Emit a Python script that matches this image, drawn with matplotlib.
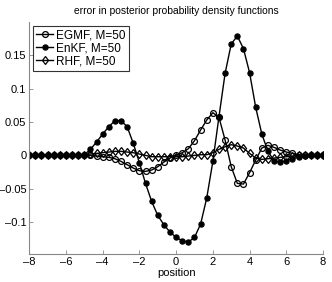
import numpy as np
import matplotlib
matplotlib.use("Agg")
import matplotlib.pyplot as plt

plt.rcParams['font.family'] = ['Liberation Sans', 'DejaVu Sans']

# grid of positions, step 1/3 from -8 to 8
position = np.linspace(-8, 8, 49)

egmf = [0, 0, 0, 0, 0, 0, 0, 0, 0, 0,
        0, -0.001, -0.002, -0.003, -0.005, -0.009, -0.014, -0.019, -0.023, -0.024,
        -0.022, -0.017, -0.010, -0.004, 0.000, 0.004, 0.010, 0.022, 0.038, 0.053,
        0.064, 0.057, 0.023, -0.017, -0.042, -0.043, -0.026, -0.007, 0.011, 0.015,
        0.012, 0.008, 0.005, 0.003, 0.001, 0, 0, 0, 0]

enkf = [0, 0, 0, 0, 0, 0, 0, 0, 0, 0.001,
        0.009, 0.020, 0.032, 0.043, 0.052, 0.052, 0.043, 0.018, -0.011, -0.042,
        -0.069, -0.090, -0.104, -0.115, -0.123, -0.128, -0.130, -0.123, -0.103, -0.064,
        -0.009, 0.058, 0.123, 0.167, 0.179, 0.160, 0.124, 0.072, 0.032, 0.006,
        -0.008, -0.010, -0.008, -0.005, -0.003, -0.001, 0, 0, 0]

rhf = [0, 0, 0, 0, 0, 0, 0, 0, 0, 0.001,
       0.002, 0.003, 0.004, 0.005, 0.006, 0.006, 0.005, 0.004, 0.002, 0.000,
       -0.002, -0.002, -0.002, -0.002, -0.002, -0.002, -0.001, 0.000, 0.001, 0.001,
       0.004, 0.009, 0.013, 0.016, 0.014, 0.011, 0.003, -0.004, -0.006, -0.005,
       -0.004, -0.003, -0.002, -0.001, 0, 0, 0, 0, 0]

labels = ['EGMF, M=50', 'EnKF, M=50', 'RHF, M=50']
xticks = [-8, -6, -4, -2, 0, 2, 4, 6, 8]
yticks = [-0.1, -0.05, 0, 0.05, 0.1, 0.15]


def fmt(v):
    s = ('%g' % v)
    return s.replace('-', '\u2013')


fig = plt.figure(figsize=(3.32, 2.82), dpi=100)
ax = fig.add_axes([0.088, 0.099, 0.885, 0.823])

ms = 4.2
ax.plot(position, egmf, '-o', color='black', lw=1.0, ms=ms,
        mfc='none', mew=0.9, label=labels[0])
ax.plot(position, enkf, '-o', color='black', lw=1.0, ms=ms - 0.5,
        mfc='black', mew=0.9, label=labels[1])
ax.plot(position, rhf, '-d', color='black', lw=1.0, ms=ms + 0.3,
        mfc='none', mew=0.9, label=labels[2])

ax.set_xlim(-8, 8)
ax.set_ylim(-0.148, 0.2)
ax.set_xticks(xticks)
ax.set_yticks(yticks)
ax.set_xticklabels([fmt(v) for v in xticks])
ax.set_yticklabels([fmt(v) for v in yticks])

for s in ['top', 'right']:
    ax.spines[s].set_visible(False)
for s in ['left', 'bottom']:
    ax.spines[s].set_color('#888888')
    ax.spines[s].set_linewidth(0.8)
ax.tick_params(direction='in', length=3, width=0.6, color='#888888',
               labelsize=8, labelcolor='black', pad=2)

ax.set_title('error in posterior probability density functions', fontsize=7.4, pad=6)
ax.set_xlabel('position', fontsize=8, labelpad=1)

leg = ax.legend(loc='upper left', fontsize=8.5, frameon=True, fancybox=False,
                handlelength=1.4, handletextpad=0.3, borderpad=0.3,
                labelspacing=0.1, borderaxespad=0.3)
leg.get_frame().set_edgecolor('black')
leg.get_frame().set_linewidth(0.8)

fig.savefig('out.png', dpi=100)
